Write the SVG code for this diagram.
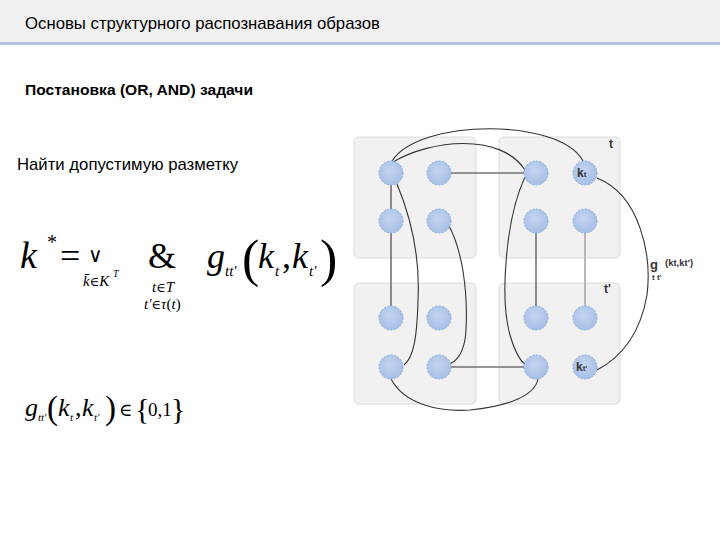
<svg xmlns="http://www.w3.org/2000/svg" width="720" height="540" viewBox="0 0 720 540">
<defs>
<style>
.box{fill:#f1f1f1;stroke:#dcdcdc;stroke-width:1}
.node{fill:url(#ng);stroke:#8eaad6;stroke-width:1;stroke-dasharray:2 1.5}
.e{fill:none;stroke:#333;stroke-width:1.1}
.sans{font-family:"Liberation Sans",Arial,sans-serif}
.m{font-family:"Liberation Serif","Times New Roman",serif;fill:#000}
.i{font-style:italic}
.dj{font-family:"DejaVu Serif",serif;font-style:normal}
.lbl{font-family:"Liberation Sans",Arial,sans-serif;font-weight:bold;fill:#333}
</style>
<radialGradient id="ng" cx="0.45" cy="0.4" r="0.65">
<stop offset="0" stop-color="#c4d6f0"/>
<stop offset="1" stop-color="#a3bde6"/>
</radialGradient>
</defs>
<rect width="720" height="540" fill="#fff"/>
<rect x="0" y="0" width="720" height="42" fill="#f0f0f0"/>
<rect x="0" y="42" width="720" height="3" fill="#b4c4d8"/>
<text class="sans" x="25" y="29" font-size="17" textLength="355" lengthAdjust="spacingAndGlyphs">Основы структурного распознавания образов</text>
<text class="sans" x="25" y="95" font-size="15" font-weight="bold" textLength="228" lengthAdjust="spacingAndGlyphs">Постановка (OR, AND) задачи</text>
<text class="sans" x="17" y="170" font-size="17" textLength="221" lengthAdjust="spacingAndGlyphs">Найти допустимую разметку</text>

<g id="formula1" class="m">
<text x="20" y="268" font-size="38" class="i">k</text>
<text x="47" y="249" font-size="20">*</text>
<text x="60" y="268" font-size="36">=</text>
<text x="88" y="262" font-size="20" class="dj">∨</text>
<text x="83" y="286" font-size="15" class="i">k̄<tspan class="dj" font-size="13">∈</tspan>K</text>
<text x="113" y="277" font-size="10" class="i">T</text>
<text x="148" y="268" font-size="36">&amp;</text>
<text x="152" y="292" font-size="15" class="i">t<tspan class="dj" font-size="13">∈</tspan>T</text>
<text x="144" y="309" font-size="15" class="i">t′<tspan class="dj" font-size="13">∈</tspan>τ<tspan font-style="normal">(</tspan>t<tspan font-style="normal">)</tspan></text>
<text x="207" y="268" font-size="36" class="i">g</text>
<text x="225" y="276" font-size="15" class="i">tt′</text>
<text x="242" y="276" font-size="52">(</text>
<text x="258" y="268" font-size="36" class="i">k</text>
<text x="275" y="276" font-size="15" class="i">t</text>
<text x="282" y="268" font-size="36">,</text>
<text x="292" y="268" font-size="36" class="i">k</text>
<text x="309" y="276" font-size="15" class="i">t′</text>
<text x="320" y="276" font-size="52">)</text>
</g>

<g id="formula2" class="m">
<text x="25" y="416" font-size="26" class="i">g</text>
<text x="38" y="421" font-size="11" class="i">tt′</text>
<text x="47" y="419" font-size="33">(</text>
<text x="58" y="416" font-size="26" class="i">k</text>
<text x="70" y="421" font-size="11" class="i">t</text>
<text x="75" y="416" font-size="26">,</text>
<text x="82" y="416" font-size="26" class="i">k</text>
<text x="94" y="421" font-size="11" class="i">t′</text>
<text x="105" y="419" font-size="33">)</text>
<text x="119" y="416" font-size="18" class="dj">∈</text>
<text x="135" y="419" font-size="30">{</text>
<text x="148" y="416" font-size="19">0,1</text>
<text x="171" y="419" font-size="30">}</text>
</g>

<g id="boxes">
<rect id="box-tl" class="box" x="354" y="137" width="122" height="121" rx="5"/>
<rect id="box-tr" class="box" x="499" y="137" width="121" height="121" rx="5"/>
<rect id="box-bl" class="box" x="354" y="283" width="122" height="121" rx="5"/>
<rect id="box-br" class="box" x="499" y="283" width="121" height="121" rx="5"/>
<text class="lbl" x="609" y="148" font-size="12" font-weight="normal">t</text>
<text class="lbl" x="604" y="293" font-size="12">t'</text>
</g>

<g id="connectors">
<path class="e" d="M392,161 C420,118 560,118 583,161"/>
<path class="e" d="M393,162 C430,140 500,132 525,170"/>
<path class="e" d="M451,173 H524"/>
<path class="e" d="M397,184 C412,220 420,260 418,300 C417,340 413,358 404,365"/>
<path class="e" d="M391,185 V306"/>
<path class="e" d="M449,226 C462,250 468,290 466,330 C465,350 458,360 450,364"/>
<path class="e" d="M391,379 C405,405 440,412 470,410 C510,406 535,395 538,379"/>
<path class="e" d="M451,367 H524"/>
<path class="e" d="M525,177 C505,220 500,300 510,335 C515,352 519,360 525,364"/>
<path class="e" d="M536,233 V306" stroke-width="1.5"/>
<path d="M585,233 V306" fill="none" stroke="#b8b8b8" stroke-width="2"/>
<path class="e" d="M597,178 C640,195 652,255 647,295 C640,335 620,358 597,370"/>
</g>

<g id="nodes">
<circle id="n1" class="node" cx="391" cy="173" r="12"/>
<circle id="n2" class="node" cx="439" cy="173" r="12"/>
<circle id="n3" class="node" cx="391" cy="221" r="12"/>
<circle id="n4" class="node" cx="439" cy="221" r="12"/>
<circle id="n5" class="node" cx="536" cy="173" r="12"/>
<circle id="n6" class="node" cx="585" cy="173" r="12"/>
<circle id="n7" class="node" cx="536" cy="221" r="12"/>
<circle id="n8" class="node" cx="585" cy="221" r="12"/>
<circle id="n9" class="node" cx="391" cy="318" r="12"/>
<circle id="n10" class="node" cx="439" cy="318" r="12"/>
<circle id="n11" class="node" cx="391" cy="367" r="12"/>
<circle id="n12" class="node" cx="439" cy="367" r="12"/>
<circle id="n13" class="node" cx="536" cy="318" r="12"/>
<circle id="n14" class="node" cx="585" cy="318" r="12"/>
<circle id="n15" class="node" cx="536" cy="367" r="12"/>
<circle id="n16" class="node" cx="585" cy="367" r="12"/>
<text class="lbl" x="577" y="177" font-size="12">k<tspan font-size="8">t</tspan></text>
<text class="lbl" x="576" y="371" font-size="12">k<tspan font-size="8">t'</tspan></text>
</g>

<g id="edge-label">
<text class="lbl" x="650" y="269" font-size="13">g</text>
<text class="lbl" x="652" y="280" font-size="8" font-weight="normal">t t'</text>
<text class="lbl" x="665" y="266" font-size="9.5">(kt,kt')</text>
</g>
</svg>
